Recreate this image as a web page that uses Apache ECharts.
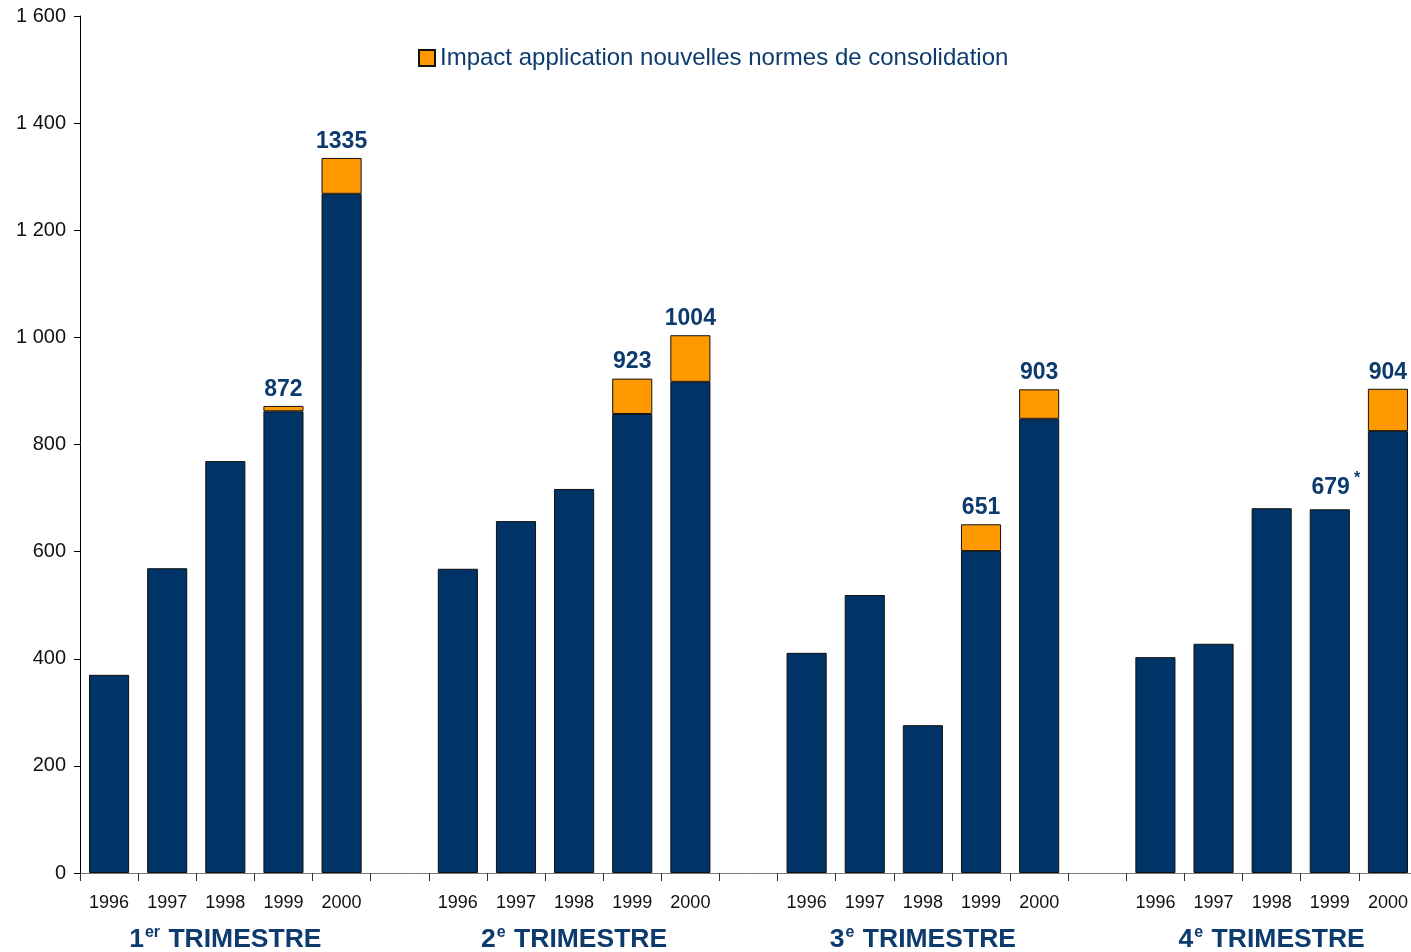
<!DOCTYPE html>
<html>
<head>
<meta charset="utf-8">
<script src="https://cdn.jsdelivr.net/npm/echarts@6/dist/echarts.min.js"></script>
<style>
  html, body { margin: 0; padding: 0; background: #fff; }
  #chart { width: 1411px; height: 952px; }
</style>
</head>
<body>
<div id="chart"></div>
<script>
// Data; '' / '-' entries are the gaps between quarters
var years = ['1996', '1997', '1998', '1999', '2000', '',
             '1996', '1997', '1998', '1999', '2000', '',
             '1996', '1997', '1998', '1999', '2000', '',
             '1996', '1997', '1998', '1999', '2000'];
var quarterLabels = ['', '', '{n|1}{s|er}{n| TRIMESTRE}', '', '', '',
                     '', '', '{n|2}{s|e}{n| TRIMESTRE}', '', '', '',
                     '', '', '{n|3}{s|e}{n| TRIMESTRE}', '', '', '',
                     '', '', '{n|4}{s|e}{n| TRIMESTRE}', '', ''];
var baseValues = [370, 569, 769, 862, 1268, '-',
                  568, 657, 717, 857, 917, '-',
                  411, 519, 276, 601, 848, '-',
                  403, 428, 681, 679, 825];
var impactValues = ['-', '-', '-', 10, 67, '-',
                    '-', '-', '-', 66, 87, '-',
                    '-', '-', '-', 50, 55, '-',
                    '-', '-', '-', '-', 79];
var totalLabels = ['', '', '', '872', '1335', '',
                   '', '', '', '923', '1004', '',
                   '', '', '', '651', '903', '',
                   '', '', '', '{v|679}{a|*}', '904'];
var yTicks = {min: 0, max: 1600, step: 200};

var NAVY = '#003366';
var ORANGE = '#FF9900';
var LABEL = '#0d3b6e';
var FONT = '"Liberation Sans", Arial, sans-serif';

var totalLabelStyle = {
  show: true,
  position: 'top',
  distance: 5,
  color: LABEL,
  fontFamily: FONT,
  fontSize: 23,
  fontWeight: 'bold',
  rich: {
    v: {color: LABEL, fontFamily: FONT, fontSize: 23, fontWeight: 'bold', padding: [0, 0, 0, 12]},
    a: {color: LABEL, fontFamily: FONT, fontSize: 16, fontWeight: 'bold',
        verticalAlign: 'top', padding: [0, 0, 18, 4]},
  },
};

// Label goes on the orange piece if there is one, otherwise on the navy bar
var baseData = baseValues.map(function (v, i) {
  if (totalLabels[i] && impactValues[i] === '-')
    return {value: v, label: Object.assign({}, totalLabelStyle, {formatter: totalLabels[i]})};
  return v;
});
var impactData = impactValues.map(function (v, i) {
  if (totalLabels[i] && v !== '-')
    return {value: v, label: Object.assign({}, totalLabelStyle, {formatter: totalLabels[i]})};
  return v;
});

var chart = echarts.init(document.getElementById('chart'));

chart.setOption({
  animation: false,
  backgroundColor: '#fff',
  textStyle: {fontFamily: FONT},
  // the last category runs a few pixels past the right edge of the picture
  grid: {left: 80, width: 1337, top: 16, bottom: 79, outerBoundsMode: 'none', containLabel: false},
  legend: {
    data: ['Impact application nouvelles normes de consolidation'],
    left: 413,
    top: 41,
    icon: 'rect',
    itemWidth: 16,
    itemHeight: 16,
    itemGap: 6,
    textStyle: {color: LABEL, fontSize: 24, fontFamily: FONT},
  },
  xAxis: [
    {
      type: 'category',
      data: years,
      axisLine: {lineStyle: {color: '#777', width: 1}},
      axisTick: {show: true, interval: 0, length: 8, lineStyle: {color: '#333'}},
      axisLabel: {interval: 0, margin: 21, color: '#111', fontSize: 18, fontFamily: FONT},
    },
    {
      type: 'category',
      data: quarterLabels,
      position: 'bottom',
      offset: 0,
      axisLine: {show: false},
      axisTick: {show: false},
      axisLabel: {
        interval: 0,
        margin: 52,
        color: LABEL,
        rich: {
          n: {color: LABEL, fontFamily: FONT, fontSize: 26.5, fontWeight: 'bold', lineHeight: 30},
          s: {color: LABEL, fontFamily: FONT, fontSize: 16, fontWeight: 'bold',
              verticalAlign: 'top', padding: [0, 1, 12, 1]},
        },
      },
    },
  ],
  yAxis: {
    type: 'value',
    min: yTicks.min,
    max: yTicks.max,
    interval: yTicks.step,
    splitLine: {show: false},
    axisLine: {show: true, lineStyle: {color: '#000'}},
    axisTick: {show: true, length: 6, lineStyle: {color: '#000'}},
    axisLabel: {
      margin: 14,
      color: '#111',
      fontSize: 20,
      fontFamily: FONT,
      formatter: function (v) {
        return String(v).replace(/\B(?=(\d{3})+(?!\d))/g, ' ');
      },
    },
  },
  series: [
    {
      name: 'Base',
      type: 'bar',
      stack: 'total',
      barWidth: '69%',
      data: baseData,
      itemStyle: {color: NAVY, borderColor: '#111', borderWidth: 1},
    },
    {
      name: 'Impact application nouvelles normes de consolidation',
      type: 'bar',
      stack: 'total',
      barWidth: '69%',
      data: impactData,
      itemStyle: {color: ORANGE, borderColor: '#111', borderWidth: 1},
    },
  ],
});
</script>
</body>
</html>
